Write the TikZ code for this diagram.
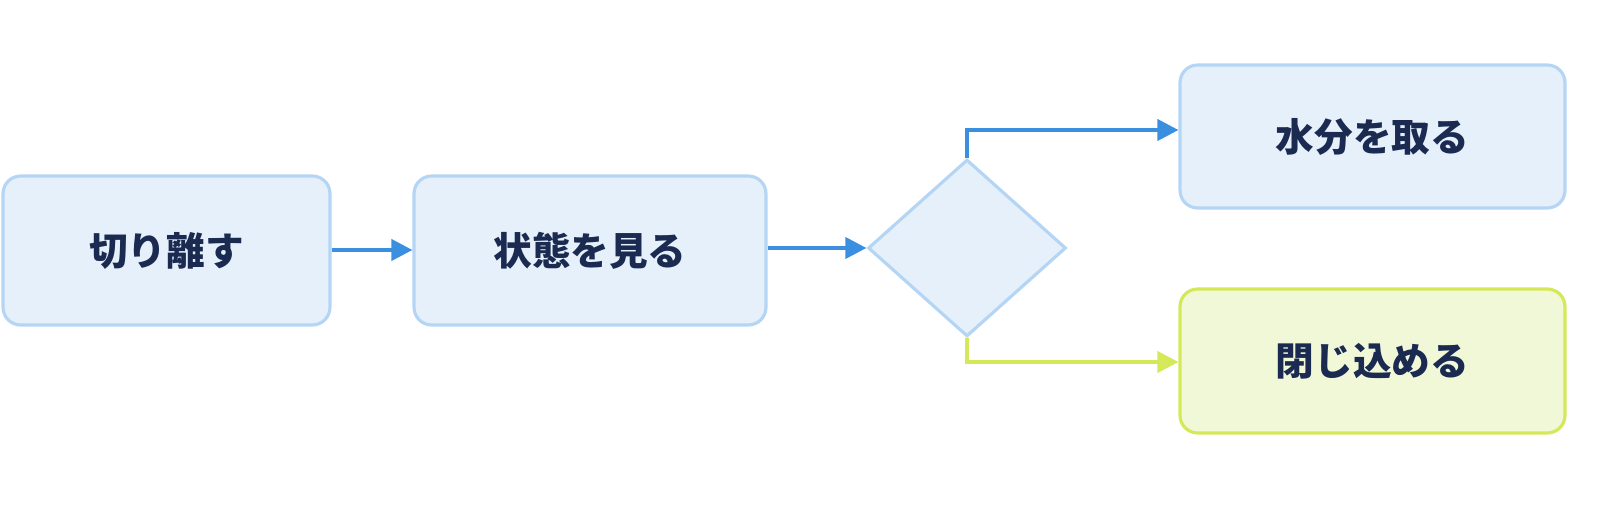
\documentclass[tikz,border=0pt]{standalone}
\usepackage{fontspec}
\newfontfamily\cjk{Noto Sans CJK JP}
\usetikzlibrary{arrows.meta}
\usetikzlibrary{shapes.geometric}
\definecolor{boxfill}{HTML}{E6F0FB}
\definecolor{boxline}{HTML}{B5D5F5}
\definecolor{flowblue}{HTML}{3B8FE0}
\definecolor{okfill}{HTML}{F1F8D8}
\definecolor{okline}{HTML}{D4E85A}
\definecolor{txt}{HTML}{1A2A50}
\tikzset{
  stage/.style={draw=boxline,fill=boxfill,line width=1.8pt,rounded corners=10pt,
    font=\cjk\bfseries\fontsize{22}{26}\selectfont,text=txt},
  flow/.style={flowblue,line width=2.2pt,-{Triangle[length=12pt,width=12pt]}},
}
\begin{document}
\begin{tikzpicture}[x=0.02cm,y=-0.02cm]
\node[stage,minimum width=6.54cm,minimum height=2.98cm] (cut) at (166.5,250.5) {切り離す};
\node[stage,minimum width=7.04cm,minimum height=2.98cm] (look) at (590,250.5) {状態を見る};
\node[draw=boxline,fill=boxfill,line width=1.8pt,diamond,aspect=1.12,
  minimum width=3.96cm,minimum height=3.54cm,inner sep=0pt] (check) at (967,248) {};
\node[stage,minimum width=7.7cm,minimum height=2.86cm] (dry) at (1372.5,136.5) {水分を取る};
\node[stage,draw=okline,fill=okfill,minimum width=7.7cm,minimum height=2.88cm] (seal) at (1372.5,361) {閉じ込める};
\coordinate (up) at (967,130);
\coordinate (down) at (967,362);
\draw[flow] (cut.east |- 0,250) -- (look.west |- 0,250);
\draw[flow] (look.east |- 0,248) -- (check.west);
\draw[flow] (check.north) -- (up) -- (dry.west |- up);
\draw[flow,draw=okline,-{Triangle[length=12pt,width=12pt,fill=okline]}] (check.south) -- (down) -- (seal.west |- down);
\pgfresetboundingbox
\path[use as bounding box] (0,0) rectangle (1600,509);
\end{tikzpicture}
\end{document}
